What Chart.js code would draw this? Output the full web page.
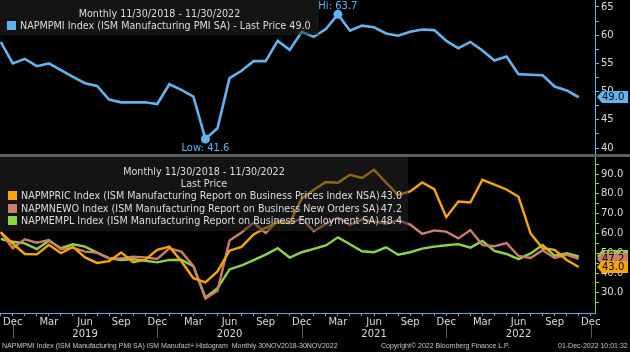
<!DOCTYPE html>
<html>
<head>
<meta charset="utf-8">
<title>ISM Manufacturing</title>
<script src="https://cdn.jsdelivr.net/npm/chart.js@4.4.1/dist/chart.umd.min.js"></script>
<style>
  body { margin: 0; background: #000; }
  #wrap { position: relative; width: 630px; height: 352px; overflow: hidden; background: #000; font-family: 'DejaVu Sans', sans-serif; color: #dcdcdc; }
  canvas { position: absolute; left: 0; }
  #pmiChart { top: 0; }
  #subChart { top: 157px; }
  .sep { position: absolute; left: 0; top: 154px; width: 630px; height: 3px; background: #5c5c5c; }
  .legend { position: absolute; left: 0; background: rgba(40,40,40,0.5); font-size: 9.6px; line-height: 12px; white-space: nowrap; }
  .legend .title { position: absolute; left: 0; width: 100%; text-align: center; }
  .legend .row { position: absolute; }
  .legend .sw { display: inline-block; width: 9px; height: 9px; margin-right: 4px; vertical-align: -1px; }
  .legend .val { position: absolute; right: 6px; text-align: right; }
  .footer { position: absolute; top: 341px; font-family: 'Liberation Sans', sans-serif; font-size: 7px; line-height: 10px; color: #c8c8c8; white-space: nowrap; will-change: transform; }
</style>
</head>
<body>
<div id="wrap">
  <canvas id="pmiChart" width="630" height="154"></canvas>
  <div class="sep"></div>
  <canvas id="subChart" width="630" height="183"></canvas>
  <div class="legend" id="pmiLegend" style="top:0;width:319px;height:35px;"></div>
  <div class="legend" id="subLegend" style="top:157px;width:408px;height:74px;"></div>
  <div class="footer" style="left:2px">NAPMPMI Index (ISM Manufacturing PMI SA) ISM Manufact+ Histogram&nbsp; Monthly 30NOV2018-30NOV2022</div>
  <div class="footer" style="left:381px">Copyright© 2022 Bloomberg Finance L.P.</div>
  <div class="footer" style="right:2px">01-Dec-2022 10:01:32</div>
</div>
<script>
// ==================== DATOS ====================
const months = [
    'Nov 2018', 'Dec 2018',
    'Jan 2019', 'Feb 2019', 'Mar 2019', 'Apr 2019', 'May 2019', 'Jun 2019', 'Jul 2019', 'Aug 2019', 'Sep 2019', 'Oct 2019', 'Nov 2019', 'Dec 2019',
    'Jan 2020', 'Feb 2020', 'Mar 2020', 'Apr 2020', 'May 2020', 'Jun 2020', 'Jul 2020', 'Aug 2020', 'Sep 2020', 'Oct 2020', 'Nov 2020', 'Dec 2020',
    'Jan 2021', 'Feb 2021', 'Mar 2021', 'Apr 2021', 'May 2021', 'Jun 2021', 'Jul 2021', 'Aug 2021', 'Sep 2021', 'Oct 2021', 'Nov 2021', 'Dec 2021',
    'Jan 2022', 'Feb 2022', 'Mar 2022', 'Apr 2022', 'May 2022', 'Jun 2022', 'Jul 2022', 'Aug 2022', 'Sep 2022', 'Oct 2022', 'Nov 2022'
];

// ISM Manufacturing PMI SA
const pmi = [
    58.8, 55.0,
    55.8, 54.5, 55.0, 53.8, 52.6, 51.5, 51.0, 48.6, 48.1, 48.1, 48.1, 47.8,
    51.3, 50.3, 49.1, 41.6, 43.5, 52.4, 53.7, 55.4, 55.4, 59.0, 57.4, 60.6,
    59.7, 61.1, 63.7, 60.8, 61.7, 61.4, 60.3, 59.9, 60.6, 61.0, 60.9, 59.0,
    57.7, 58.8, 57.3, 55.5, 56.2, 53.1, 53.0, 52.9, 50.9, 50.2, 49.0
];

// Prices Index NSA
const prices = [
    60.7, 54.9,
    49.6, 49.4, 54.3, 50.0, 53.2, 47.9, 45.1, 46.0, 50.4, 45.5, 46.7, 51.7,
    53.3, 45.9, 37.4, 35.3, 40.8, 51.3, 53.2, 59.5, 62.8, 65.5, 65.4, 77.6,
    82.1, 86.0, 85.6, 89.6, 88.0, 92.1, 85.7, 79.4, 81.2, 85.7, 82.4, 68.2,
    76.1, 75.6, 87.1, 84.6, 82.2, 78.5, 60.0, 52.5, 51.7, 46.6, 43.0
];

// New Orders SA
const newOrders = [
    60.5, 52.5,
    57.0, 55.3, 56.7, 52.0, 52.8, 50.8, 50.3, 47.4, 47.4, 48.2, 47.9, 47.1,
    52.5, 50.8, 43.5, 27.1, 31.0, 56.4, 60.5, 65.5, 60.2, 66.5, 65.1, 67.5,
    61.1, 64.8, 68.0, 64.3, 67.0, 66.0, 64.9, 66.7, 64.5, 59.8, 61.5, 60.9,
    57.5, 61.7, 54.1, 53.5, 55.1, 48.6, 47.6, 51.5, 47.6, 49.2, 47.2
];

// Employment SA
const employment = [
    57.2, 55.8,
    55.0, 52.1, 56.3, 52.5, 54.5, 53.3, 50.3, 47.4, 46.6, 47.0, 46.2, 45.4,
    46.6, 46.7, 43.4, 27.5, 32.3, 41.8, 43.8, 46.5, 49.3, 52.5, 47.8, 50.5,
    52.2, 53.9, 58.0, 54.5, 51.0, 50.5, 53.0, 49.2, 50.5, 52.3, 53.3, 54.0,
    54.6, 52.8, 56.2, 51.2, 49.6, 47.0, 49.9, 54.1, 48.7, 50.0, 48.4
];

const pmiName = 'NAPMPMI Index (ISM Manufacturing PMI SA)';
const subNames = [
    'NAPMPRIC Index (ISM Manufacturing Report on Business Prices Index NSA)',
    'NAPMNEWO Index (ISM Manufacturing Report on Business New Orders SA)',
    'NAPMEMPL Index (ISM Manufacturing Report on Business Employment SA)'
];
const periodText = 'Monthly 11/30/2018 - 11/30/2022';

// ticks
const pmiTicks = [40, 42.5, 45, 47.5, 50, 52.5, 55, 57.5, 60, 62.5, 65];
const subTicks = [25, 30, 35, 40, 45, 50, 55, 60, 65, 70, 75, 80, 85, 90, 95];
const axisMonths = ['Dec', 'Mar', 'Jun', 'Sep'];
const monthNames = ['Jan', 'Feb', 'Mar', 'Apr', 'May', 'Jun', 'Jul', 'Aug', 'Sep', 'Oct', 'Nov', 'Dec'];

// ==================== ESTILO ====================
const BLUE = '#62b4ee';
const ORANGE = '#f7a600';
const SALMON = '#cd7d69';
const GREEN = '#8fd448';
const AXIS_BLUE = '#5aa7e6';
const TEXT = '#dcdcdc';
const FONT = 'DejaVu Sans';
const subColors = [ORANGE, SALMON, GREEN];

// ==================== UTILIDADES ====================
// mes y año para la posicion i del eje (0 = Nov 2018)
function monthAt(i) {
    const [m, y] = months[0].split(' ');
    const idx = monthNames.indexOf(m) + i;
    return { name: monthNames[idx % 12], year: String(Number(y) + Math.floor(idx / 12)) };
}

function tickLabel(v) {
    const m = monthAt(v);
    if (!axisMonths.includes(m.name)) return '';
    if (m.name === 'Jun') return [m.name, m.year];
    return m.name;
}

function toPoints(arr) { return arr.map((v, i) => ({ x: i, y: v })); }

function xScale(show) {
    const scale = {
        type: 'linear', display: show, min: -0.06, max: 49.35,
        afterBuildTicks: axis => {
            axis.ticks = [];
            for (let i = 0; i <= months.length; i++) axis.ticks.push({ value: i });
        },
        ticks: { autoSkip: false, maxRotation: 0, padding: 0, color: TEXT, font: { family: FONT, size: 10, lineHeight: 1.2 }, callback: v => tickLabel(v) },
        grid: { drawOnChartArea: false, color: AXIS_BLUE, tickLength: 3 },
        border: { color: AXIS_BLUE, width: 1 }
    };
    if (show) scale.afterFit = s => { s.height = 27; s.paddingLeft = 0; s.paddingRight = 0; };
    return scale;
}

function yScale(min, max, ticks, color, fmt) {
    return {
        position: 'right', min: min, max: max,
        afterBuildTicks: axis => { axis.ticks = ticks.map(v => ({ value: v })); },
        ticks: { autoSkip: false, color: TEXT, padding: 2, font: { family: FONT, size: 10 }, callback: fmt },
        grid: { drawOnChartArea: false, color: color, tickLength: 4 },
        border: { color: color, width: 1 },
        // ancho fijo y sin relleno extra arriba / abajo
        afterFit: s => { s.width = 35; s.paddingTop = 0; s.paddingBottom = 0; }
    };
}

// ==================== PLUGINS ====================
// caja con el ultimo precio a la derecha del eje
const lastPricePlugin = {
    id: 'lastPrice',
    afterDraw(chart) {
        const ctx = chart.ctx;
        const yAxis = chart.scales.y;
        const x0 = chart.chartArea.right + 2;
        ctx.save();
        chart.data.datasets.slice().reverse().forEach(ds => {
            const val = ds.data[ds.data.length - 1].y;
            const y = Math.round(yAxis.getPixelForValue(val));
            ctx.fillStyle = ds.borderColor;
            ctx.beginPath();
            ctx.moveTo(x0, y);
            ctx.lineTo(x0 + 5, y - 6);
            ctx.lineTo(x0 + 31, y - 6);
            ctx.lineTo(x0 + 31, y + 6);
            ctx.lineTo(x0 + 5, y + 6);
            ctx.closePath();
            ctx.fill();
            ctx.fillStyle = '#000';
            ctx.font = '10px "' + FONT + '"';
            ctx.textAlign = 'left';
            ctx.textBaseline = 'middle';
            ctx.fillText(val.toFixed(1), x0 + 5, y + 0.5);
        });
        ctx.restore();
    }
};

// etiquetas Hi / Low en el PMI
const hiLowPlugin = {
    id: 'hiLow',
    afterDatasetsDraw(chart) {
        const ctx = chart.ctx;
        const meta = chart.getDatasetMeta(0);
        const lo = pmi.indexOf(Math.min(...pmi));
        const hi = pmi.indexOf(Math.max(...pmi));
        ctx.save();
        ctx.fillStyle = BLUE;
        ctx.font = '10px "' + FONT + '"';
        ctx.textAlign = 'center';
        ctx.textBaseline = 'middle';
        ctx.fillText('Low: ' + pmi[lo].toFixed(1), meta.data[lo].x, meta.data[lo].y + 9);
        ctx.fillText('Hi: ' + pmi[hi].toFixed(1), meta.data[hi].x, meta.data[hi].y - 7.5);
        ctx.restore();
    }
};

// lineas separadoras de año debajo de cada Dec
const yearSepPlugin = {
    id: 'yearSep',
    afterDraw(chart) {
        const ctx = chart.ctx;
        const xs = chart.scales.x;
        const bottom = chart.chartArea.bottom;
        ctx.save();
        ctx.strokeStyle = '#5c5c5c';
        ctx.lineWidth = 1;
        for (let i = 0; i <= months.length; i++) {
            if (monthAt(i).name !== 'Dec') continue;
            const x = Math.round(xs.getPixelForValue(i)) + 0.5;
            ctx.beginPath();
            ctx.moveTo(x, bottom + 12);
            ctx.lineTo(x, bottom + 25);
            ctx.stroke();
        }
        ctx.restore();
    }
};

// ==================== LEYENDAS ====================
function cargarLeyendas() {
    const top = document.getElementById('pmiLegend');
    top.innerHTML =
        '<div class="title" style="top:8px">' + periodText + '</div>' +
        '<div class="row" style="top:20px;left:7px"><span class="sw" style="background:' + BLUE + '"></span>' +
        pmiName + ' - Last Price ' + pmi[pmi.length - 1].toFixed(1) + '</div>';

    const sub = document.getElementById('subLegend');
    const lasts = [prices, newOrders, employment].map(a => a[a.length - 1].toFixed(1));
    let html = '<div class="title" style="top:9px">' + periodText + '</div>' +
        '<div class="title" style="top:21px">Last Price</div>';
    subNames.forEach((n, i) => {
        const t = 33 + i * 12.5;
        html += '<div class="row" style="top:' + t + 'px;left:8px"><span class="sw" style="background:' + subColors[i] + '"></span>' + n + '</div>';
        html += '<div class="val" style="top:' + t + 'px">' + lasts[i] + '</div>';
    });
    sub.innerHTML = html;
}

// ==================== GRAFICOS ====================
function dibujarGraficos() {
    const lo = pmi.indexOf(Math.min(...pmi));
    const hi = pmi.indexOf(Math.max(...pmi));

    new Chart(document.getElementById('pmiChart'), {
        type: 'line',
        data: {
            datasets: [{
                label: pmiName, data: toPoints(pmi), borderColor: BLUE, backgroundColor: BLUE,
                borderWidth: 2.6, tension: 0,
                pointRadius: c => (c.dataIndex === lo || c.dataIndex === hi) ? 4.5 : 0,
                pointBorderWidth: 0
            }]
        },
        options: {
            responsive: false, animation: false,
            layout: { padding: 0 },
            plugins: { legend: { display: false }, tooltip: { enabled: false } },
            scales: {
                x: xScale(false),
                y: yScale(38.94, 66.24, pmiTicks, BLUE, v => v % 5 === 0 ? String(v) : '')
            }
        },
        plugins: [hiLowPlugin, lastPricePlugin]
    });

    new Chart(document.getElementById('subChart'), {
        type: 'line',
        data: {
            datasets: [prices, newOrders, employment].map((arr, i) => ({
                label: subNames[i], data: toPoints(arr), borderColor: subColors[i],
                borderWidth: 2.4, tension: 0, pointRadius: 0
            }))
        },
        options: {
            responsive: false, animation: false,
            layout: { padding: 0 },
            plugins: { legend: { display: false }, tooltip: { enabled: false } },
            scales: {
                x: xScale(true),
                y: yScale(19.8, 98.6, subTicks, GREEN, v => v % 10 === 0 ? v.toFixed(1) : '')
            }
        },
        plugins: [lastPricePlugin, yearSepPlugin]
    });
}

// ==================== INICIALIZAR ====================
cargarLeyendas();
dibujarGraficos();
</script>
</body>
</html>
